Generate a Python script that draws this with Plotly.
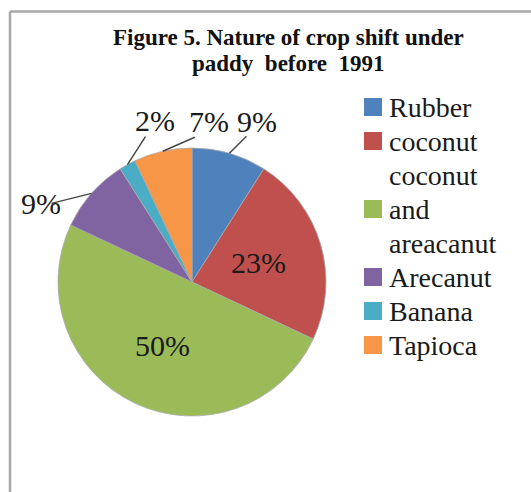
import math
import plotly.graph_objects as go

# Crop shift under paddy before 1991 (share of area, %)
crops = ["Rubber", "coconut", "coconut<br>and<br>areacanut", "Arecanut", "Banana", "Tapioca"]
shares = [9, 23, 50, 9, 2, 7]
colors = ["#4F81BD", "#C0504D", "#9BBB59", "#8064A2", "#4BACC6", "#F79646"]

# label placement: "in" = inside the slice, "out" = outside with a leader line
label_mode = ["out", "in", "in", "out", "out", "out"]
# outside labels: (leader end offset, text centre offset) in px from the slice rim
leader_end = {0: (17, -17), 3: (-40, 10), 4: (18, -28), 5: (32, -14)}
text_off = {0: (28, -32), 3: (-50, 10), 4: (28, -44), 5: (46, -30)}

W, H = 531, 492
CX, CY, R = 192, 282, 134  # pie centre / radius in px (y from top)
SERIF = "Times New Roman, Liberation Serif, serif"

def px(x):
    return x / W

def py(y):
    return 1 - y / H

fig = go.Figure()
fig.add_trace(go.Pie(
    labels=crops,
    values=shares,
    marker=dict(colors=colors, line=dict(color="#a9a9a9", width=0.8)),
    sort=False,
    direction="clockwise",
    rotation=0,
    textinfo="none",
    hoverinfo="label+percent",
    showlegend=False,
    domain=dict(x=[px(CX - R), px(CX + R)], y=[py(CY + R), py(CY - R)]),
))

total = sum(shares)
annotations = []
shapes = []
cum = 0
for i, v in enumerate(shares):
    theta = 2 * math.pi * (cum + v / 2) / total
    cum += v
    sx, sy = math.sin(theta), -math.cos(theta)
    label = f"{round(100 * v / total)}%"
    if label_mode[i] == "in":
        lx, ly = CX + 0.52 * R * sx, CY + 0.52 * R * sy
    else:
        ex, ey = CX + R * sx, CY + R * sy
        dx, dy = leader_end[i]
        shapes.append(dict(type="line", xref="paper", yref="paper",
                           x0=px(ex), y0=py(ey), x1=px(ex + dx), y1=py(ey + dy),
                           line=dict(color="#474747", width=1.5)))
        tx, ty = text_off[i]
        lx, ly = ex + tx, ey + ty
    annotations.append(dict(text=label, x=px(lx), y=py(ly), xref="paper", yref="paper",
                            xanchor="center", yanchor="middle", showarrow=False,
                            font=dict(family=SERIF, size=30, color="#1a1a1a")))

# title, two centred lines
for txt, yy in [("Figure 5. Nature of crop shift under", 37), ("paddy  before  1991", 63)]:
    annotations.append(dict(text=f"<b>{txt}</b>", x=px(288), y=py(yy), xref="paper", yref="paper",
                            xanchor="center", yanchor="middle", showarrow=False,
                            font=dict(family=SERIF, size=23, color="#111111")))

# legend: coloured squares with serif labels
LEG_X, LEG_Y, LINE_H, SQ = 364, 107, 34, 18
row = 0
for name, col in zip(crops, colors):
    lines = name.split("<br>")
    mid = row + (len(lines) - 1) / 2
    yc = LEG_Y + mid * LINE_H
    shapes.append(dict(type="rect", xref="paper", yref="paper",
                       x0=px(LEG_X), x1=px(LEG_X + SQ), y0=py(yc + SQ / 2), y1=py(yc - SQ / 2),
                       fillcolor=col, line=dict(color=col, width=0)))
    for k, ln in enumerate(lines):
        annotations.append(dict(text=ln, x=px(LEG_X + SQ + 5), y=py(LEG_Y + (row + k) * LINE_H),
                                xref="paper", yref="paper", xanchor="left", yanchor="middle",
                                showarrow=False,
                                font=dict(family=SERIF, size=28, color="#1a1a1a")))
    row += len(lines)

# chart-area frame (top and left edges)
shapes.append(dict(type="line", xref="paper", yref="paper", x0=px(10), y0=py(11.5), x1=px(531), y1=py(11.5),
                   line=dict(color="#a8a8a8", width=2.5)))
shapes.append(dict(type="line", xref="paper", yref="paper", x0=px(10), y0=py(11.5), x1=px(10), y1=0,
                   line=dict(color="#a8a8a8", width=2.5)))

fig.update_layout(
    width=W, height=H,
    margin=dict(l=0, r=0, t=0, b=0),
    paper_bgcolor="white", plot_bgcolor="white",
    font=dict(family=SERIF),
    annotations=annotations, shapes=shapes,
    showlegend=False,
)

fig.write_html("out.html")
